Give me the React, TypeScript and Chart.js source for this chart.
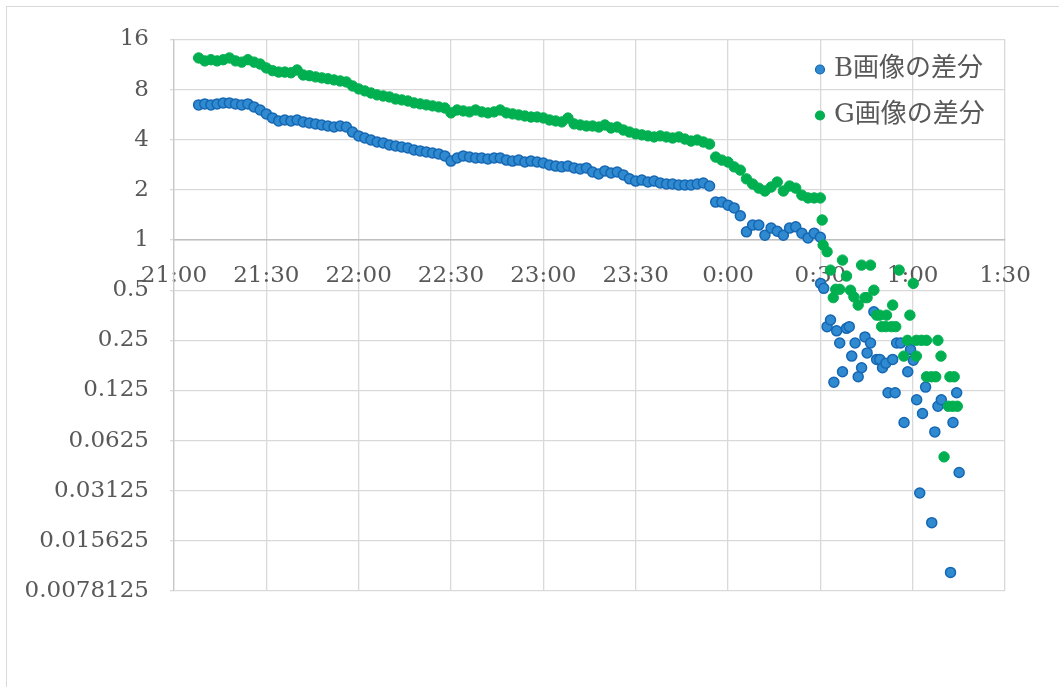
import React, { useEffect, useRef } from "react";
import { Chart, registerables } from "chart.js";

Chart.register(...registerables);

// ---- data ----
const seriesNames = ["B画像の差分", "G画像の差分"];

const xTickLabels = ["21:00", "21:30", "22:00", "22:30", "23:00", "23:30", "0:00", "0:30", "1:00", "1:30"];

const yTickValues = [0.0078125, 0.015625, 0.03125, 0.0625, 0.125, 0.25, 0.5, 1, 2, 4, 8, 16];
const yTickLabels = ["0.0078125", "0.015625", "0.03125", "0.0625", "0.125", "0.25", "0.5", "1", "2", "4", "8", "16"];

// minutes after 21:00
const denseMinutes = [
  8, 10, 12, 14, 16, 18, 20, 22, 24, 26,
  28, 30, 32, 34, 36, 38, 40, 42, 44, 46,
  48, 50, 52, 54, 56, 58, 60, 62, 64, 66,
  68, 70, 72, 74, 76, 78, 80, 82, 84, 86,
  88, 90, 92, 94, 96, 98, 100, 102, 104, 106,
  108, 110, 112, 114, 116, 118, 120, 122, 124, 126,
  128, 130, 132, 134, 136, 138, 140, 142, 144, 146,
  148, 150, 152, 154, 156, 158, 160, 162, 164, 166,
  168, 170, 172, 174, 176, 178, 180, 182, 184, 186,
  188, 190, 192, 194, 196, 198, 200, 202, 204, 206,
  208, 210,
];

const bDense = [
  6.48, 6.57, 6.48, 6.57, 6.66, 6.66, 6.57, 6.48, 6.57, 6.30,
  6.04, 5.72, 5.41, 5.19, 5.26, 5.19, 5.26, 5.12, 5.05, 4.98,
  4.91, 4.84, 4.77, 4.84, 4.77, 4.45, 4.22, 4.10, 3.99, 3.88,
  3.83, 3.72, 3.67, 3.62, 3.57, 3.47, 3.43, 3.38, 3.33, 3.29,
  3.20, 2.98, 3.11, 3.20, 3.15, 3.11, 3.11, 3.07, 3.11, 3.11,
  3.02, 2.98, 3.02, 2.94, 2.98, 2.94, 2.90, 2.82, 2.78, 2.75,
  2.78, 2.71, 2.67, 2.71, 2.56, 2.49, 2.60, 2.53, 2.56, 2.46,
  2.33, 2.26, 2.29, 2.23, 2.26, 2.20, 2.17, 2.17, 2.14, 2.14,
  2.14, 2.17, 2.20, 2.11, 1.69, 1.69, 1.62, 1.56, 1.40, 1.12,
  1.23, 1.23, 1.07, 1.18, 1.13, 1.07, 1.18, 1.20, 1.10, 1.03,
  1.10, 1.04,
];

const gDense = [
  12.4, 11.9, 12.1, 11.9, 12.1, 12.4, 11.9, 11.7, 12.1, 11.7,
  11.4, 10.8, 10.4, 10.2, 10.2, 10.1, 10.5, 9.8, 9.7, 9.54,
  9.41, 9.3, 9.15, 9.02, 8.9, 8.42, 8.08, 7.86, 7.64, 7.44,
  7.33, 7.23, 7.03, 6.94, 6.84, 6.66, 6.57, 6.48, 6.39, 6.30,
  6.21, 5.80, 6.04, 5.96, 5.88, 6.04, 5.88, 5.80, 5.88, 6.04,
  5.80, 5.72, 5.64, 5.56, 5.48, 5.48, 5.41, 5.26, 5.19, 5.12,
  5.40, 4.98, 4.91, 4.84, 4.84, 4.77, 4.91, 4.71, 4.77, 4.58,
  4.45, 4.34, 4.28, 4.22, 4.16, 4.22, 4.16, 4.10, 4.16, 4.04,
  3.93, 3.99, 3.88, 3.77, 3.15, 3.02, 2.94, 2.75, 2.63, 2.33,
  2.17, 2.05, 1.97, 2.08, 2.23, 1.97, 2.11, 2.05, 1.86, 1.79,
  1.79, 1.79,
];

const bSparseMinutes = [
  210.1, 211.1, 212.2, 213.3, 214.4, 215.3, 216.3, 217.2, 218.5, 219.4,
  220.2, 221.3, 222.3, 223.4, 224.5, 225.2, 226.3, 227.4, 228.3, 229.3,
  230.2, 231.3, 232.0, 233.5, 234.3, 234.8, 236.1, 237.2, 238.4, 239.3,
  240.2, 241.3, 242.3, 243.2, 244.2, 246.2, 247.2, 248.2, 249.3, 252.3,
  253.1, 254.3, 255.1,
];
const bSparse = [
  0.549, 0.513, 0.302, 0.331, 0.140, 0.285, 0.241, 0.162, 0.295, 0.302,
  0.201, 0.241, 0.151, 0.171, 0.262, 0.210, 0.241, 0.371, 0.192, 0.192,
  0.171, 0.182, 0.121, 0.192, 0.121, 0.241, 0.241, 0.0803, 0.162, 0.220,
  0.190, 0.110, 0.0303, 0.0909, 0.131, 0.0201, 0.0705, 0.1005, 0.110, 0.0101,
  0.0803, 0.121, 0.0402,
];

const gSparseMinutes = [
  210.6, 210.9, 212.2, 213.3, 214.2, 215.0, 216.3, 217.2, 218.5, 219.8,
  220.9, 222.3, 223.4, 224.5, 225.2, 226.3, 227.4, 228.3, 229.3, 229.9,
  231.3, 231.5, 233.1, 233.5, 234.5, 235.6, 237.1, 238.3, 239.1, 240.2,
  241.2, 241.2, 242.9, 244.5, 244.5, 246.1, 247.5, 248.2, 249.2, 250.2,
  251.6, 252.1, 253.0, 253.5, 254.5,
];
const gSparse = [
  1.32, 0.933, 0.851, 0.660, 0.451, 0.506, 0.506, 0.758, 0.608, 0.500,
  0.456, 0.407, 0.707, 0.451, 0.451, 0.707, 0.500, 0.354, 0.354, 0.302,
  0.302, 0.354, 0.302, 0.407, 0.302, 0.660, 0.201, 0.250, 0.354, 0.549,
  0.250, 0.201, 0.250, 0.250, 0.151, 0.151, 0.151, 0.250, 0.201, 0.0499,
  0.1005, 0.151, 0.1005, 0.151, 0.1005,
];

// ---- styles ----
const TEXT = "#595959";
const FONT = "'DejaVu Serif', 'Noto Sans CJK JP', serif";
const BLUE_FILL = "#2f8ad0";
const BLUE_BORDER = "#1667b3";
const GREEN = "#00b050";

const toPoints = (xs: number[], ys: number[]) => xs.map((x, i) => ({ x, y: ys[i] }));

const legendPlugin = {
  id: "inlineLegend",
  afterDraw(chart: any) {
    const { ctx, chartArea } = chart;
    const items = [
      { label: seriesNames[0], fill: BLUE_FILL, stroke: BLUE_BORDER },
      { label: seriesNames[1], fill: GREEN, stroke: GREEN },
    ];
    ctx.save();
    items.forEach((it, i) => {
      const cy = chartArea.top + 30 + i * 46;
      const cx = chartArea.right - 185;
      ctx.beginPath();
      ctx.arc(cx, cy, 4.5, 0, Math.PI * 2);
      ctx.fillStyle = it.fill;
      ctx.fill();
      ctx.lineWidth = 1.2;
      ctx.strokeStyle = it.stroke;
      ctx.stroke();
      ctx.fillStyle = TEXT;
      ctx.font = `26px ${FONT}`;
      ctx.textBaseline = "middle";
      ctx.textAlign = "left";
      ctx.fillText(it.label, cx + 14, cy);
    });
    ctx.restore();
  },
};

export default function App() {
  const ref = useRef<HTMLCanvasElement | null>(null);

  useEffect(() => {
    if (!ref.current) return;
    const blueData = [...toPoints(denseMinutes, bDense), ...toPoints(bSparseMinutes, bSparse)];
    const greenData = [...toPoints(denseMinutes, gDense), ...toPoints(gSparseMinutes, gSparse)];
    const chart = new Chart(ref.current, {
      type: "scatter",
      data: {
        datasets: [
          {
            label: seriesNames[0],
            data: blueData,
            backgroundColor: BLUE_FILL,
            borderColor: BLUE_BORDER,
            borderWidth: 1.5,
            pointRadius: 5,
            order: 1,
          },
          {
            label: seriesNames[1],
            data: greenData,
            backgroundColor: GREEN,
            borderColor: GREEN,
            borderWidth: 1,
            pointRadius: 5.2,
            order: 0,
          },
        ],
      },
      options: {
        animation: false,
        responsive: false,
        maintainAspectRatio: false,
        layout: { padding: { left: 0, top: 39.5, right: 54, bottom: 96 } },
        plugins: {
          legend: { display: false },
          tooltip: { enabled: false },
          title: { display: false },
        },
        scales: {
          x: {
            type: "linear",
            position: { y: 1 } as any,
            min: 0,
            max: 270,
            grid: { color: "#d9d9d9", lineWidth: 1.3, drawTicks: false },
            border: { display: true, color: "#bfbfbf", width: 1.5 },
            ticks: {
              stepSize: 30,
              autoSkip: false,
              maxRotation: 0,
              padding: 22,
              color: TEXT,
              font: { family: FONT, size: 23 },
              callback: (v: any) => xTickLabels[Math.round(Number(v) / 30)] ?? "",
            },
          },
          y: {
            type: "logarithmic",
            position: "left",
            min: 0.0078125,
            max: 16,
            afterBuildTicks: (s: any) => {
              s.ticks = yTickValues.map((v) => ({ value: v }));
            },
            afterFit: (s: any) => {
              s.width = 174;
            },
            grid: { color: "#d9d9d9", lineWidth: 1.3, tickLength: 4 },
            border: { display: true, color: "#c8c8c8", width: 1.3 },
            ticks: {
              padding: 21,
              color: TEXT,
              font: { family: FONT, size: 23 },
              callback: (v: any) => {
                const i = yTickValues.indexOf(Number(v));
                return i >= 0 ? yTickLabels[i] : "";
              },
            },
          },
        },
      },
      plugins: [legendPlugin],
    });
    return () => chart.destroy();
  }, []);

  return (
    <div style={{ position: "absolute", left: 0, top: 0, width: 1059, height: 687, overflow: "hidden", background: "#fff" }}>
      <div
        style={{
          position: "absolute",
          left: 6,
          top: 6,
          width: 1200,
          height: 900,
          border: "1.5px solid #d9d9d9",
          boxSizing: "border-box",
        }}
      />
      <canvas ref={ref} width={1059} height={687} style={{ position: "absolute", left: 0, top: 0 }} />
    </div>
  );
}
